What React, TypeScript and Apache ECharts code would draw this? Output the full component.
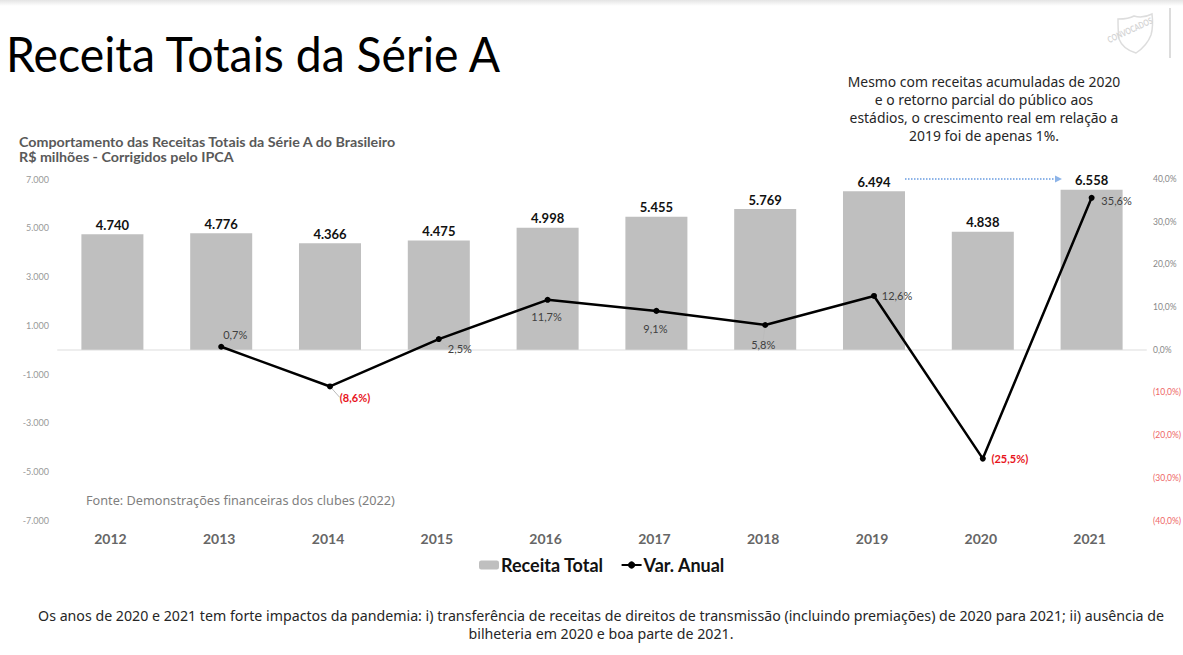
import React, { useEffect, useRef } from "react";
import * as echarts from "echarts";

const categories = ["2012", "2013", "2014", "2015", "2016", "2017", "2018", "2019", "2020", "2021"];
const receitaTotal = [4740, 4776, 4366, 4475, 4998, 5455, 5769, 6494, 4838, 6558];
const varAnual = [null, 0.7, -8.6, 2.5, 11.7, 9.1, 5.8, 12.6, -25.5, 35.6];
const leftTickLabels = ["7.000", "5.000", "3.000", "1.000", "-1.000", "-3.000", "-5.000", "-7.000"];
const titleText = "Receita Totais da Série A";
const subtitleLines = ["Comportamento das Receitas Totais da Série A do Brasileiro", "R$ milhões - Corrigidos pelo IPCA"];
const noteLines = ["Mesmo com receitas acumuladas de 2020", "e o retorno parcial do público aos", "estádios, o crescimento real em relação a", "2019 foi de apenas 1%."];
const sourceText = "Fonte: Demonstrações financeiras dos clubes (2022)";
const footerLines = [
  "Os anos de 2020 e 2021 tem forte impactos da pandemia: i) transferência de receitas de direitos de transmissão (incluindo premiações) de 2020 para 2021; ii) ausência de",
  "bilheteria em 2020 e boa parte de 2021.",
];

const labelOffsets: [number, number][] = [
  [0, 0], [14, -12], [25, 11], [21, 9], [-1, 17], [-1, 18], [-2, 20], [23, 0], [27, 0], [25, 3],
];
const leaderLineYears = ["2014", "2015", "2018"];

const fmtThousands = (v: number) => String(v).replace(/(\d)(\d{3})$/, "$1.$2");
const fmtPct = (v: number) => {
  const s = Math.abs(v).toFixed(1).replace(".", ",") + "%";
  return v < 0 ? `(${s})` : s;
};

const FONT = "Lato, sans-serif";
const BODY = "'Noto Sans', sans-serif";

echarts.graphic.registerShape(
  "logoShield",
  echarts.graphic.extendPath(
    "M3 5 C9 5 14 5 19 2 C25 4 31 3 37 0 C38 8 38 14 36 21 C33 29 27 35 21 39 C14 37 7 33 4 25 C3 18 3 11 3 5 Z",
    {}
  )
);

export default function App() {
  const ref = useRef<HTMLDivElement>(null);
  useEffect(() => {
    const chart = echarts.init(ref.current!, undefined, { renderer: "svg" });
    chart.setOption({
      animation: false,
      backgroundColor: "#ffffff",
      textStyle: { fontFamily: FONT },
      grid: { left: 58, right: 37, top: 179, bottom: 134.5, containLabel: false, outerBoundsMode: "none" },
      legend: {
        left: 474,
        top: 551,
        itemGap: 17,
        itemWidth: 20,
        itemHeight: 9,
        data: ["Receita Total", "Var. Anual"],
        textStyle: { fontSize: 18, fontWeight: "bold", color: "#111111", fontFamily: FONT, padding: [0, 0, 0, -3] },
      },
      xAxis: {
        type: "category",
        data: categories,
        axisLine: { show: true, onZero: true, lineStyle: { color: "#eeeeee", width: 2 } },
        axisTick: { show: false },
        axisLabel: { margin: 11, fontSize: 14, fontWeight: "bold", color: "#666666", fontFamily: FONT, padding: [0, 4, 0, 0] },
      },
      yAxis: [
        {
          type: "value",
          min: -7000,
          max: 7000,
          interval: 1000,
          splitLine: { show: false },
          axisLine: { show: false },
          axisTick: { show: false },
          axisLabel: {
            margin: 9,
            fontSize: 9,
            color: "#999999",
            fontFamily: FONT,
            formatter: (v: number) => {
              const s = fmtThousands(v);
              return leftTickLabels.includes(s) ? s : "";
            },
          },
        },
        {
          type: "value",
          min: -40,
          max: 40,
          interval: 10,
          splitLine: { show: false },
          axisLine: { show: false },
          axisTick: { show: false },
          axisLabel: {
            margin: 7,
            fontSize: 8.5,
            fontFamily: FONT,
            color: (v: number) => (v < 0 ? "#ee6666" : "#888888"),
            formatter: (v: number) => fmtPct(v),
          },
        },
      ],
      series: [
        {
          name: "Receita Total",
          type: "bar",
          data: receitaTotal,
          barWidth: "57%",
          itemStyle: { color: "#bfbfbf" },
          label: {
            show: true,
            position: "top",
            distance: 3,
            fontSize: 13,
            fontWeight: "bold",
            color: "#111111",
            fontFamily: FONT,
            formatter: (p: any) => fmtThousands(p.value),
          },
        },
        {
          name: "Var. Anual",
          type: "line",
          yAxisIndex: 1,
          data: varAnual.map((v, i) => ({
            value: v,
            label: {
              show: v !== null,
              position: "inside",
              color: v !== null && v < 0 ? "#e8141c" : "#404040",
              fontWeight: v !== null && v < 0 ? "bold" : "normal",
              fontSize: 11,
              textBorderWidth: 0,
              fontFamily: FONT,
              formatter: (p: any) => fmtPct(p.value),
            },
            labelLine: {
              show: leaderLineYears.includes(categories[i]),
              lineStyle: { color: "#bbbbbb", width: 1 },
            },
          })),
          labelLayout: (p: any) => ({ dx: labelOffsets[p.dataIndex][0], dy: labelOffsets[p.dataIndex][1] }),
          symbol: "circle",
          symbolSize: 6,
          lineStyle: { color: "#000000", width: 2.5 },
          itemStyle: { color: "#000000" },
          z: 5,
        },
      ],
      graphic: [
        {
          type: "rect",
          shape: { x: 0, y: 0, width: 1183, height: 6 },
          style: {
            fill: new echarts.graphic.LinearGradient(0, 0, 0, 1, [
              { offset: 0, color: "#e4e4e4" },
              { offset: 1, color: "#ffffff" },
            ]),
          },
        },
        { type: "text", x: 6, y: 28, scaleX: 0.946, style: { text: titleText, fontFamily: FONT, fontSize: 49, fill: "#000000" } },
        ...subtitleLines.map((t, i) => ({
          type: "text", x: 19, y: 135 + i * 15, scaleX: 1.02,
          style: { text: t, fontFamily: FONT, fontSize: 14, fontWeight: "bold", fill: "#595959" },
        })),
        ...noteLines.map((t, i) => ({
          type: "text", x: 984, y: 74 + i * 18,
          style: { text: t, fontFamily: BODY, fontSize: 13.9, fill: "#262626", align: "center" },
        })),
        { type: "text", x: 86, y: 493, style: { text: sourceText, fontFamily: BODY, fontSize: 12.7, fill: "#7f7f7f" } },
        ...footerLines.map((t, i) => ({
          type: "text", x: 601, y: 608 + i * 18,
          style: { text: t, fontFamily: BODY, fontSize: 14.2, fill: "#262626", align: "center" },
        })),
        {
          type: "line",
          shape: { x1: 905, y1: 179, x2: 1055, y2: 179 },
          style: { stroke: "#8db4e8", lineWidth: 2, lineDash: [1.5, 1.5] },
        },
        {
          type: "polygon",
          shape: { points: [[1055, 175.5], [1062, 179], [1055, 182.5]] },
          style: { fill: "#8db4e8" },
        },
        {
          type: "logoShield", x: 1115, y: 14,
          style: { fill: "none", stroke: "#dddddd", lineWidth: 1.5 },
        },
        {
          type: "text", x: 1106, y: 36, rotation: 0.43, scaleX: 0.75,
          style: { text: "CONVOCADOS", fontFamily: FONT, fontSize: 9, fontWeight: "bold", fill: "#d5d5d5" },
        },
        { type: "rect", shape: { x: 1169, y: 8, width: 2, height: 50 }, style: { fill: "#dcdcdc" } },
      ],
    });
    return () => chart.dispose();
  }, []);
  return <div ref={ref} style={{ position: "absolute", left: 0, top: 0, width: 1183, height: 655 }} />;
}
